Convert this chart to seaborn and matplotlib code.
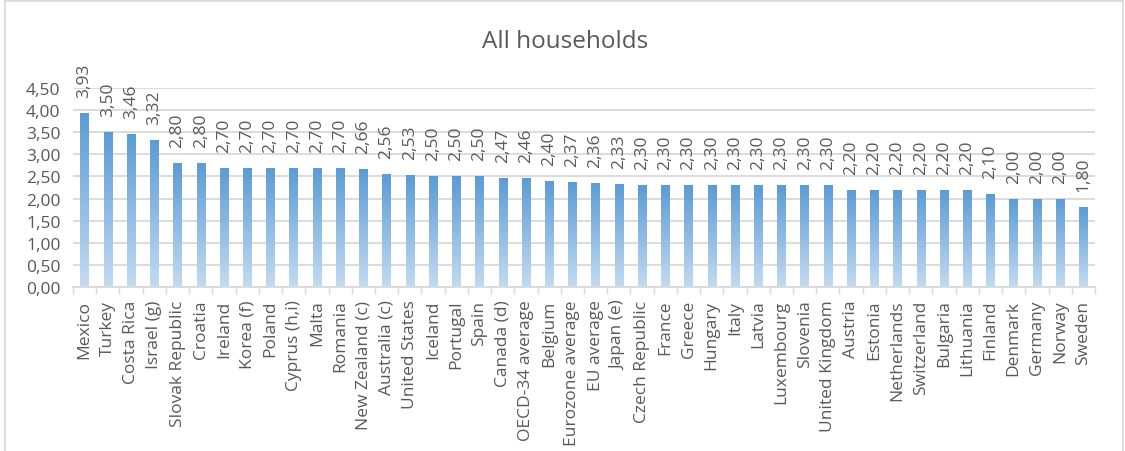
import numpy as np
import pandas as pd
import matplotlib
matplotlib.use("Agg")
import matplotlib.pyplot as plt
from matplotlib.patches import Rectangle
from matplotlib.colors import LinearSegmentedColormap
import seaborn as sns

countries = [
    "Mexico", "Turkey", "Costa Rica", "Israel (g)", "Slovak Republic", "Croatia",
    "Ireland", "Korea (f)", "Poland", "Cyprus (h,i)", "Malta", "Romania",
    "New Zealand (c)", "Australia (c)", "United States", "Iceland", "Portugal",
    "Spain", "Canada (d)", "OECD-34 average", "Belgium", "Eurozone average",
    "EU average", "Japan (e)", "Czech Republic", "France", "Greece", "Hungary",
    "Italy", "Latvia", "Luxembourg", "Slovenia", "United Kingdom", "Austria",
    "Estonia", "Netherlands", "Switzerland", "Bulgaria", "Lithuania", "Finland",
    "Denmark", "Germany", "Norway", "Sweden",
]
values = [
    3.93, 3.50, 3.46, 3.32, 2.80, 2.80,
    2.70, 2.70, 2.70, 2.70, 2.70, 2.70,
    2.66, 2.56, 2.53, 2.50, 2.50,
    2.50, 2.47, 2.46, 2.40, 2.37,
    2.36, 2.33, 2.30, 2.30, 2.30, 2.30,
    2.30, 2.30, 2.30, 2.30, 2.30, 2.20,
    2.20, 2.20, 2.20, 2.20, 2.20, 2.10,
    2.00, 2.00, 2.00, 1.80,
]
y_ticks = [0.0, 0.5, 1.0, 1.5, 2.0, 2.5, 3.0, 3.5, 4.0, 4.5]
title = "All households"

df = pd.DataFrame({"country": countries, "value": values})

sns.set_theme(style="white")
plt.rcParams["font.family"] = ["Open Sans", "DejaVu Sans"]
text_color = "#595959"
grid_color = "#d9d9d9"
fs = 12.5

fig = plt.figure(figsize=(11.25, 4.52), dpi=100)
ax = fig.add_axes([0.0649, 0.3628, 0.9084, 0.4403])

sns.barplot(data=df, x="country", y="value", ax=ax, color="#5b9bd5",
            width=0.36, saturation=1, zorder=3)

# vertical gradient fill for each bar, dark at the top, light at the base
grad_cmap = LinearSegmentedColormap.from_list("bar_grad", ["#c3dbf1", "#5b9bd5"])
grad = np.linspace(0, 1, 256).reshape(-1, 1)
for patch in ax.patches:
    x0 = patch.get_x()
    w = patch.get_width()
    h = patch.get_height()
    im = ax.imshow(grad, cmap=grad_cmap, origin="lower", aspect="auto",
                   extent=[x0, x0 + w, 0, h], zorder=3, interpolation="bilinear")
    im.set_clip_path(patch)
    patch.set_facecolor("none")
    patch.set_edgecolor("none")

# value labels above each bar
for i, v in enumerate(values):
    ax.annotate(f"{v:.2f}".replace(".", ","), xy=(i, v), xytext=(0, 11.5),
                textcoords="offset points", rotation=90, ha="center", va="bottom",
                fontsize=fs, color=text_color)

ax.set_xlim(-0.5, len(countries) - 0.5)
ax.set_ylim(0, 4.5)
ax.set_yticks(y_ticks)
ax.set_yticklabels([f"{t:.2f}".replace(".", ",") for t in y_ticks],
                   fontsize=fs, color=text_color)
ax.tick_params(axis="y", length=0, pad=9)
ax.yaxis.grid(True, color=grid_color, linewidth=1.3, zorder=0)
ax.set_axisbelow(True)

ax.set_xticks(range(len(countries)))
ax.set_xticklabels(countries, rotation=90, fontsize=fs, color=text_color)
ax.tick_params(axis="x", which="major", length=0, pad=9)
ax.set_xticks(np.arange(-0.5, len(countries), 1), minor=True)
ax.tick_params(axis="x", which="minor", length=5, width=1, color=grid_color,
               direction="out", bottom=True)
ax.set_xlabel("")
ax.set_ylabel("")

for side in ["left", "right", "top"]:
    ax.spines[side].set_visible(False)
ax.spines["bottom"].set_color(grid_color)
ax.spines["bottom"].set_linewidth(1.3)
ax.spines["bottom"].set_zorder(4)

fig.text(0.502, 0.908, title, ha="center", va="center", fontsize=17.5,
         color=text_color)

# chart-area frame
frame = Rectangle((5 / 1125, -0.05), (1123 - 5) / 1125, 1.05 - 2 / 452,
                  transform=fig.transFigure, fill=False, edgecolor=grid_color,
                  linewidth=1.3)
fig.patches.append(frame)

fig.savefig("out.png", dpi=100, facecolor="white")
